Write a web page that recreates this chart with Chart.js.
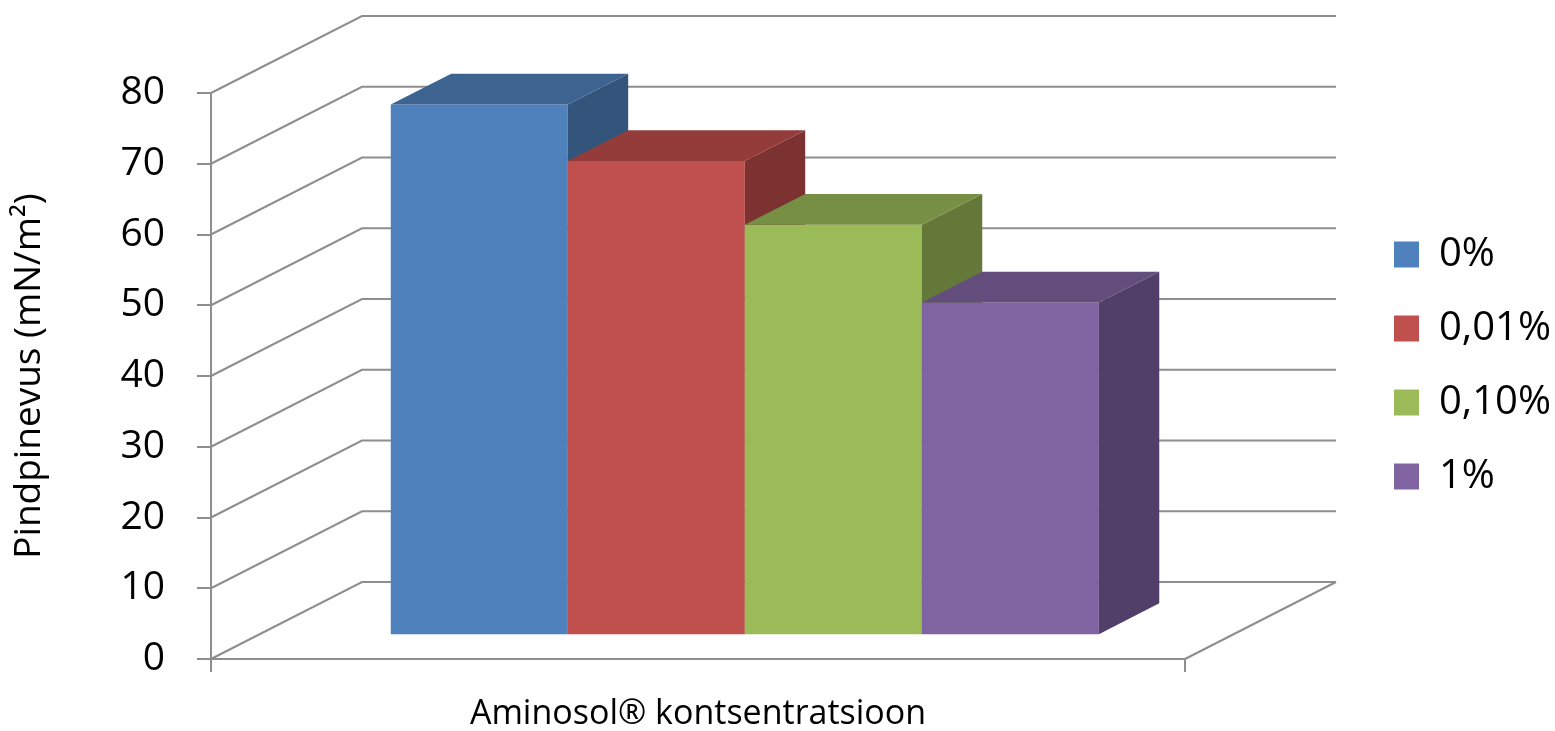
<!DOCTYPE html>
<html>
<head>
<meta charset="utf-8">
<title>Pindpinevus</title>
<script src="https://cdn.jsdelivr.net/npm/chart.js@4.4.1/dist/chart.umd.min.js"></script>
<style>
  html, body { margin: 0; padding: 0; background: #ffffff; }
  canvas { display: block; }
</style>
</head>
<body>
<canvas id="chart" width="1555" height="731"></canvas>
<script>
// ---- data ----
const categories = [''];
const seriesLabels = ['0%', '0,01%', '0,10%', '1%'];
const seriesValues = [[75], [67], [58], [47]];
const yMin = 0;
const yMax = 80;
const yStep = 10;
const xTitle = 'Aminosol® kontsentratsioon';
const yTitle = 'Pindpinevus (mN/m²)';

// ---- colours ----
const frontColors = ['#4F81BD', '#C0504D', '#9BBB59', '#8064A2'];
const topColors   = ['#3D6391', '#943C3A', '#778F45', '#624D7C'];
const sideColors  = ['#33547B', '#7B3230', '#647939', '#523F69'];
const GRID = '#8e8e8e';
const TEXT = '#000000';

// ---- oblique 3D projection ----
const WALL_DX = 151;    // horizontal shift from front plane to back wall
const WALL_DY = -77;    // vertical shift from front plane to back wall
const BAR_FRONT = 0.31; // depth of the bars' front faces (0 = front, 1 = back wall)
const BAR_DEPTH = 0.4;  // thickness of the bars as a fraction of the full depth

Chart.defaults.font.family = "'Open Sans', 'DejaVu Sans', sans-serif";

function fillPoly(ctx, pts, color) {
  ctx.beginPath();
  ctx.moveTo(pts[0][0], pts[0][1]);
  for (let i = 1; i < pts.length; i++) ctx.lineTo(pts[i][0], pts[i][1]);
  ctx.closePath();
  ctx.fillStyle = color;
  ctx.fill();
}

const box3d = {
  id: 'box3d',
  // side wall, back wall and floor edges
  beforeDatasetsDraw(chart) {
    const { ctx, chartArea: a, scales: { y } } = chart;
    ctx.save();
    ctx.strokeStyle = GRID;
    ctx.lineWidth = 2;
    ctx.beginPath();
    y.ticks.forEach(t => {
      const py = y.getPixelForValue(t.value);
      ctx.moveTo(a.left, py);
      ctx.lineTo(a.left + WALL_DX, py + WALL_DY);
      ctx.lineTo(a.right + WALL_DX, py + WALL_DY);
    });
    ctx.moveTo(a.right, a.bottom);
    ctx.lineTo(a.right + WALL_DX, a.bottom + WALL_DY);
    ctx.stroke();
    ctx.restore();
  },
  // bars are drawn below as solid blocks, left to right
  beforeDatasetDraw() {
    return false;
  },
  afterDatasetsDraw(chart) {
    const { ctx } = chart;
    const dx = WALL_DX * BAR_DEPTH;
    const dy = WALL_DY * BAR_DEPTH;
    ctx.save();
    ctx.translate(WALL_DX * BAR_FRONT, WALL_DY * BAR_FRONT);
    chart.data.datasets.forEach((ds, i) => {
      if (!chart.isDatasetVisible(i)) return;
      chart.getDatasetMeta(i).data.forEach(bar => {
        const { x, y, base, width } = bar.getProps(['x', 'y', 'base', 'width'], true);
        const l = x - width / 2;
        const r = x + width / 2;
        bar.draw(ctx);
        fillPoly(ctx, [[r, y], [r + dx, y + dy], [r + dx, base + dy], [r, base]], sideColors[i]);
        fillPoly(ctx, [[l, y], [l + dx, y + dy], [r + dx, y + dy], [r, y]], topColors[i]);
      });
    });
    ctx.restore();
  }
};

new Chart(document.getElementById('chart'), {
  type: 'bar',
  data: {
    labels: categories,
    datasets: seriesLabels.map((label, i) => ({
      label,
      data: seriesValues[i],
      backgroundColor: frontColors[i],
      borderWidth: 0
    }))
  },
  options: {
    responsive: false,
    animation: false,
    events: [],
    layout: { padding: 0 },
    datasets: {
      bar: { categoryPercentage: 0.727, barPercentage: 1.0 }
    },
    scales: {
      x: {
        type: 'category',
        position: 'bottom',
        grid: { display: true, drawOnChartArea: false, drawTicks: true, tickLength: 13, color: GRID, lineWidth: 2, offset: true },
        border: { display: true, color: GRID, width: 2 },
        ticks: { display: false },
        title: { display: true, text: xTitle, color: TEXT, font: { size: 34, lineHeight: 1 }, padding: 0 },
        afterFit(s) { s.height = 72; }
      },
      y: {
        min: yMin,
        max: yMax,
        ticks: { stepSize: yStep, color: TEXT, font: { size: 39 }, padding: 32 },
        grid: { drawOnChartArea: false, drawTicks: true, tickLength: 14, color: GRID, lineWidth: 2 },
        border: { display: true, color: GRID, width: 2 },
        title: { display: true, text: yTitle, color: TEXT, font: { size: 37, lineHeight: 1 }, padding: { top: 11, bottom: 0 } },
        afterFit(s) { s.width = 211; }
      },
      // room for the receding back wall above and to the right of the plot
      wallTop: {
        type: 'linear', position: 'top', display: true,
        grid: { display: false }, ticks: { display: false }, border: { display: false },
        afterFit(s) { s.height = 93; }
      },
      wallRight: {
        type: 'linear', position: 'right', display: true,
        grid: { display: false }, ticks: { display: false }, border: { display: false },
        afterFit(s) { s.width = 175; }
      }
    },
    plugins: {
      legend: {
        position: 'right',
        maxWidth: 195,
        labels: {
          color: TEXT,
          font: { size: 40 },
          boxWidth: 25,
          boxHeight: 26,
          padding: 34,
          sort: (a, b) => a.datasetIndex - b.datasetIndex
        }
      },
      tooltip: { enabled: false }
    }
  },
  plugins: [box3d]
});
</script>
</body>
</html>
